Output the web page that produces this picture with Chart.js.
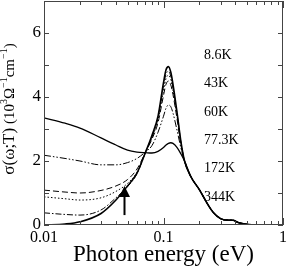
<!DOCTYPE html>
<html>
<head>
<meta charset="utf-8">
<script src="https://cdn.jsdelivr.net/npm/chart.js@4.4.1/dist/chart.umd.min.js"></script>
<style>
html, body { margin: 0; padding: 0; background: #fff; }
#wrap { width: 289px; height: 273px; }
</style>
</head>
<body>
<div id="wrap"><canvas id="mycanvas" width="289" height="273"></canvas></div>
<script>
// photon energy (eV)
var energy = [0.01, 0.015, 0.02, 0.03, 0.04, 0.05, 0.06, 0.071, 0.08, 0.09, 0.1, 0.105, 0.11, 0.115, 0.12, 0.13, 0.14, 0.15,
	0.17, 0.2, 0.23, 0.26, 0.3, 0.35, 0.38, 0.42, 0.5, 0.6, 1.0];

// sigma (10^3 ohm^-1 cm^-1) for each temperature
var s8_6K  = [0.00, 0.03, 0.10, 0.36, 0.78, 1.22, 1.62, 2.29, 2.80, 3.40, 4.45, 4.85, 4.95, 4.78, 4.40, 3.50, 2.60, 2.00,
	1.50, 1.10, 0.70, 0.40, 0.20, 0.15, 0.15, 0.08, 0.02, 0.00, 0.00];
var s43K   = [0.38, 0.33, 0.31, 0.47, 0.85, 1.20, 1.60, 2.29, 2.75, 3.35, 4.35, 4.72, 4.80, 4.65, 4.30, 3.45, 2.58, 2.00,
	1.50, 1.10, 0.70, 0.40, 0.20, 0.15, 0.15, 0.08, 0.02, 0.00, 0.00];
var s60K   = [0.88, 0.82, 0.78, 0.85, 1.05, 1.30, 1.65, 2.29, 2.72, 3.30, 4.20, 4.58, 4.68, 4.55, 4.20, 3.40, 2.55, 2.00,
	1.50, 1.10, 0.70, 0.40, 0.20, 0.15, 0.15, 0.08, 0.02, 0.00, 0.00];
var s77_3K = [1.09, 1.03, 1.00, 1.08, 1.22, 1.42, 1.75, 2.29, 2.68, 3.20, 4.05, 4.40, 4.50, 4.38, 4.08, 3.30, 2.50, 2.00,
	1.50, 1.10, 0.70, 0.40, 0.20, 0.15, 0.15, 0.08, 0.02, 0.00, 0.00];
var s172K  = [2.18, 2.08, 2.00, 1.88, 1.88, 1.95, 2.08, 2.29, 2.48, 2.90, 3.40, 3.65, 3.75, 3.70, 3.50, 2.95, 2.40, 2.00,
	1.50, 1.10, 0.70, 0.40, 0.20, 0.15, 0.15, 0.08, 0.02, 0.00, 0.00];
var s344K  = [3.35, 3.18, 3.03, 2.72, 2.50, 2.34, 2.28, 2.26, 2.25, 2.30, 2.42, 2.50, 2.55, 2.57, 2.55, 2.42, 2.22, 2.00,
	1.50, 1.10, 0.70, 0.40, 0.20, 0.15, 0.15, 0.08, 0.02, 0.00, 0.00];

var tempLabels = ["8.6K", "43K", "60K", "77.3K", "172K", "344K"];
var xTickLabels = [0.01, 0.1, 1];
var yTickLabels = [0, 2, 4, 6];

var serif = "'Liberation Serif', 'Times New Roman', serif";

function pts(ys) {
	var out = [];
	for (var i in energy) {
		out.push({x: energy[i], y: ys[i]});
	}
	return out;
}

function series(label, ys, width, dash) {
	return {
		label: label,
		data: pts(ys),
		borderColor: "#000",
		borderWidth: width,
		borderDash: dash,
		pointRadius: 0,
		fill: false,
		cubicInterpolationMode: "monotone"
	};
}

var chartdata = {
	datasets: [
		series("8.6K", s8_6K, 1.6, []),
		series("43K", s43K, 1, [6, 2, 1.5, 2]),
		series("60K", s60K, 1, [1.5, 2]),
		series("77.3K", s77_3K, 1, [6, 3]),
		series("172K", s172K, 1, [7, 2, 1.5, 2, 1.5, 2]),
		series("344K", s344K, 1.3, [])
	]
};

// frame, inward ticks, labels, arrow, y title
var decorations = {
	id: "decorations",
	afterDraw: function(chart) {
		var ctx = chart.ctx;
		var a = chart.chartArea;
		var xs = chart.scales.x, ys = chart.scales.y;
		ctx.save();
		ctx.strokeStyle = "#444";
		ctx.lineWidth = 1;
		ctx.strokeRect(a.left + 0.5, a.top + 0.5, a.right - a.left - 1, a.bottom - a.top - 1);

		ctx.beginPath();
		for (var v = 0; v <= 7; v++) {
			var py = Math.round(ys.getPixelForValue(v)) + 0.5;
			ctx.moveTo(a.left, py); ctx.lineTo(a.left + 5, py);
			ctx.moveTo(a.right, py); ctx.lineTo(a.right - 5, py);
		}
		[0.01, 0.1].forEach(function(dec) {
			for (var m = 1; m <= 10; m++) {
				var px = Math.round(xs.getPixelForValue(dec * m)) + 0.5;
				var len = (m === 1 || m === 10) ? 7 : 4;
				ctx.moveTo(px, a.bottom); ctx.lineTo(px, a.bottom - len);
				ctx.moveTo(px, a.top); ctx.lineTo(px, a.top + len);
			}
		});
		ctx.stroke();

		// temperature labels
		ctx.fillStyle = "#000";
		ctx.font = "14px " + serif;
		ctx.textBaseline = "middle";
		ctx.textAlign = "left";
		var labelSigma = [5.31, 4.44, 3.53, 2.66, 1.78, 0.88];
		tempLabels.forEach(function(t, i) {
			ctx.fillText(t, xs.getPixelForValue(0.218), ys.getPixelForValue(labelSigma[i]));
		});

		// arrow
		var ax = Math.round(xs.getPixelForValue(0.0467)) + 0.5;
		var yTail = ys.getPixelForValue(0.31), yTip = ys.getPixelForValue(1.22);
		ctx.strokeStyle = "#000";
		ctx.lineWidth = 2;
		ctx.beginPath();
		ctx.moveTo(ax, yTail); ctx.lineTo(ax, yTip + 8);
		ctx.stroke();
		ctx.beginPath();
		ctx.moveTo(ax, yTip);
		ctx.lineTo(ax - 5.5, yTip + 11);
		ctx.lineTo(ax + 5.5, yTip + 11);
		ctx.closePath();
		ctx.fill();

		// y title with superscripts
		var parts = [
			["\u03c3(\u03c9;T)", 17, 0],
			[" (10", 15, 0],
			["3", 10, -7],
			["\u03a9", 15, 0],
			["\u22121", 10, -7],
			["cm", 15, 0],
			["\u22121", 10, -7],
			[")", 15, 0]
		];
		var total = 0;
		parts.forEach(function(p) {
			ctx.font = p[1] + "px " + serif;
			p.push(ctx.measureText(p[0]).width);
			total += p[3];
		});
		ctx.translate(14, 109);
		ctx.rotate(-Math.PI / 2);
		ctx.textBaseline = "alphabetic";
		var cx = -total / 2;
		parts.forEach(function(p) {
			ctx.font = p[1] + "px " + serif;
			ctx.fillText(p[0], cx, p[2]);
			cx += p[3];
		});
		ctx.restore();
	}
};

var ctx = document.getElementById("mycanvas");

var LineGraph = new Chart(ctx, {
	type: "line",
	data: chartdata,
	plugins: [decorations],
	options: {
		responsive: false,
		animation: false,
		events: [],
		layout: { padding: { top: 1, right: 6, left: 0, bottom: 0 } },
		plugins: { legend: { display: false }, tooltip: { enabled: false } },
		scales: {
			x: {
				type: "logarithmic",
				min: 0.01,
				max: 1,
				grid: { display: false, drawTicks: false },
				border: { display: false },
				afterBuildTicks: function(scale) {
					var t = [];
					[0.01, 0.1].forEach(function(dec) {
						for (var m = 1; m < 10; m++) t.push({ value: dec * m });
					});
					t.push({ value: 1 });
					scale.ticks = t;
				},
				afterFit: function(scale) {
					scale.height = 48;
					scale.paddingLeft = 0;
					scale.paddingRight = 0;
				},
				ticks: {
					autoSkip: false,
					maxRotation: 0,
					padding: 3,
					color: "#000",
					font: { family: serif, size: 16 },
					callback: function(v) {
						for (var i in xTickLabels) {
							if (Math.abs(v - xTickLabels[i]) < 1e-9) return String(xTickLabels[i]);
						}
						return "";
					}
				},
				title: {
					display: true,
					text: "Photon energy (eV)",
					color: "#000",
					font: { family: serif, size: 23 },
					padding: { top: 0, bottom: 4 }
				}
			},
			y: {
				min: 0,
				max: 7,
				grid: { display: false, drawTicks: false },
				border: { display: false },
				afterFit: function(scale) {
					scale.width = 44;
					scale.paddingTop = 0;
					scale.paddingBottom = 0;
				},
				ticks: {
					stepSize: 1,
					padding: 3,
					color: "#000",
					font: { family: serif, size: 17 },
					callback: function(v) {
						return yTickLabels.indexOf(v) >= 0 ? String(v) : "";
					}
				}
			}
		}
	}
});
</script>
</body>
</html>
